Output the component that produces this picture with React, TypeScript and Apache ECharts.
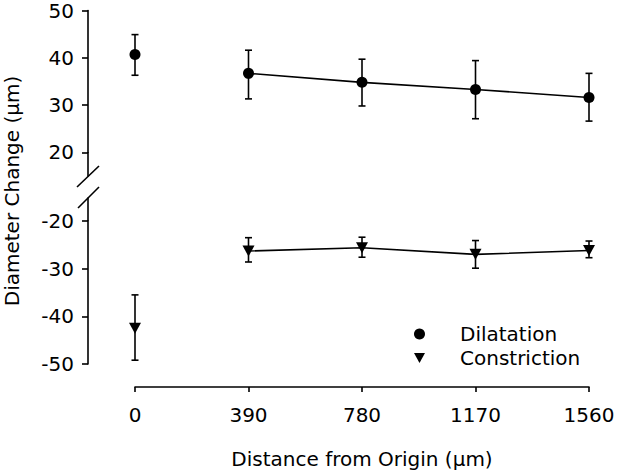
import React, { useEffect, useRef } from "react";
import * as echarts from "echarts";

const xValues = [0, 390, 780, 1170, 1560];
const xTickLabels = ["0", "390", "780", "1170", "1560"];
const dilMean = [40.7, 36.7, 34.8, 33.3, 31.6];
const dilLow = [36.3, 31.3, 29.8, 27.1, 26.6];
const dilHigh = [44.9, 41.6, 39.7, 39.4, 36.7];
const conMean = [-42.5, -26.3, -25.6, -27.0, -26.2];
const conLow = [-49.2, -28.6, -27.6, -29.9, -27.7];
const conHigh = [-35.5, -23.5, -23.4, -24.1, -24.2];
const topTicks = [20, 30, 40, 50];
const bottomTicks = [-50, -40, -30, -20];

const FONT = "DejaVu Sans";
const BLACK = "#000";

function errorRender(params: any, api: any) {
  const x = api.value(0);
  const lo = api.value(1);
  const hi = api.value(2);
  const p1 = api.coord([x, lo]);
  const p2 = api.coord([x, hi]);
  const w = 3.5;
  const st = { stroke: BLACK, lineWidth: 1.6 };
  return {
    type: "group",
    children: [
      { type: "line", shape: { x1: p1[0], y1: p1[1], x2: p2[0], y2: p2[1] }, style: st },
      { type: "line", shape: { x1: p1[0] - w, y1: p1[1], x2: p1[0] + w, y2: p1[1] }, style: st },
      { type: "line", shape: { x1: p2[0] - w, y1: p2[1], x2: p2[0] + w, y2: p2[1] }, style: st },
    ],
  };
}

export default function App() {
  const ref = useRef<HTMLDivElement>(null);
  useEffect(() => {
    if (!ref.current) return;
    const chart = echarts.init(ref.current, undefined, { renderer: "svg" });
    const pts = (vals: number[], from: number, to: number) =>
      xValues.slice(from, to).map((x, i) => [x, vals[from + i]]);
    const errs = (lo: number[], hi: number[]) => xValues.map((x, i) => [x, lo[i], hi[i]]);
    const yAxisCommon = {
      type: "value",
      position: "left",
      offset: 47,
      interval: 10,
      axisLine: { show: true, onZero: false, lineStyle: { color: BLACK, width: 1.6 } },
      axisTick: { show: true, length: 6, lineStyle: { color: BLACK, width: 1.6 } },
      axisLabel: { color: BLACK, fontFamily: FONT, fontSize: 20, margin: 14 },
      splitLine: { show: false },
    };
    const line = { color: BLACK, width: 1.6 };
    const triPath = "path://M0,0L12,0L6,11Z";
    const mark = { color: BLACK, opacity: 1 };
    chart.setOption({
      animation: false,
      backgroundColor: "#fff",
      textStyle: { fontFamily: FONT },
      grid: [
        { left: 135, right: 30, top: 10.5, height: 141.8 },
        { left: 135, right: 30, top: 221, height: 143 },
      ],
      xAxis: [
        { type: "value", gridIndex: 0, min: 0, max: 1560, interval: 390, show: false },
        {
          type: "value",
          gridIndex: 1,
          min: 0,
          max: 1560,
          interval: 390,
          offset: 23,
          axisLine: { show: true, onZero: false, lineStyle: { color: BLACK, width: 1.6 } },
          axisTick: { show: true, length: 5, lineStyle: { color: BLACK, width: 1.6 } },
          axisLabel: {
            color: BLACK,
            fontFamily: FONT,
            fontSize: 20,
            margin: 18,
            formatter: (v: number) => xTickLabels[xValues.indexOf(v)] ?? "",
          },
          splitLine: { show: false },
          name: "Distance from Origin (\u03bcm)",
          nameLocation: "middle",
          nameGap: 62,
          nameTextStyle: { color: BLACK, fontFamily: FONT, fontSize: 20 },
        },
      ],
      yAxis: [
        { ...yAxisCommon, gridIndex: 0, min: topTicks[0], max: topTicks[topTicks.length - 1] },
        { ...yAxisCommon, gridIndex: 1, min: bottomTicks[0], max: bottomTicks[bottomTicks.length - 1] },
      ],
      legend: {
        orient: "vertical",
        left: 409,
        top: 319,
        itemWidth: 11,
        itemHeight: 11,
        itemGap: 4,
        textStyle: { color: BLACK, fontFamily: FONT, fontSize: 20, padding: [0, 0, 0, 30], lineHeight: 20 },
        data: [
          { name: "Dilatation", icon: "circle", itemStyle: { color: BLACK } },
          { name: "Constriction", icon: triPath, itemStyle: { color: BLACK } },
        ],
      },
      graphic: [
        { type: "line", shape: { x1: 88, y1: 152, x2: 88, y2: 176.5 }, style: { stroke: BLACK, lineWidth: 1.6 } },
        { type: "line", shape: { x1: 88, y1: 197.5, x2: 88, y2: 221 }, style: { stroke: BLACK, lineWidth: 1.6 } },
        { type: "line", shape: { x1: 77, y1: 187, x2: 99, y2: 166 }, style: { stroke: BLACK, lineWidth: 1.6 } },
        { type: "line", shape: { x1: 78, y1: 208, x2: 99, y2: 187 }, style: { stroke: BLACK, lineWidth: 1.6 } },
        {
          type: "text",
          x: 12,
          y: 191,
          rotation: Math.PI / 2,
          style: {
            text: "Diameter Change (\u03bcm)",
            fill: BLACK,
            font: `20px "${FONT}"`,
            align: "center",
            verticalAlign: "middle",
          },
        },
      ],
      series: [
        {
          type: "custom",
          xAxisIndex: 0,
          yAxisIndex: 0,
          renderItem: errorRender,
          encode: { x: 0, y: [1, 2] },
          data: errs(dilLow, dilHigh),
          z: 1,
          silent: true,
        },
        {
          type: "custom",
          xAxisIndex: 1,
          yAxisIndex: 1,
          renderItem: errorRender,
          encode: { x: 0, y: [1, 2] },
          data: errs(conLow, conHigh),
          z: 1,
          silent: true,
        },
        {
          name: "Dilatation",
          type: "line",
          xAxisIndex: 0,
          yAxisIndex: 0,
          data: pts(dilMean, 1, 5),
          symbol: "circle",
          symbolSize: 11,
          itemStyle: mark,
          lineStyle: line,
          z: 3,
        },
        {
          name: "Dilatation",
          type: "scatter",
          xAxisIndex: 0,
          yAxisIndex: 0,
          data: pts(dilMean, 0, 1),
          symbol: "circle",
          symbolSize: 11,
          itemStyle: mark,
          z: 3,
        },
        {
          name: "Constriction",
          type: "line",
          xAxisIndex: 1,
          yAxisIndex: 1,
          data: pts(conMean, 1, 5),
          symbol: triPath,
          symbolSize: [12, 11],
          itemStyle: mark,
          lineStyle: line,
          z: 3,
        },
        {
          name: "Constriction",
          type: "scatter",
          xAxisIndex: 1,
          yAxisIndex: 1,
          data: pts(conMean, 0, 1),
          symbol: triPath,
          symbolSize: [12, 11],
          itemStyle: mark,
          z: 3,
        },
      ],
    });
    return () => chart.dispose();
  }, []);
  return <div ref={ref} style={{ position: "fixed", left: 0, top: 0, width: 619, height: 473 }} />;
}
